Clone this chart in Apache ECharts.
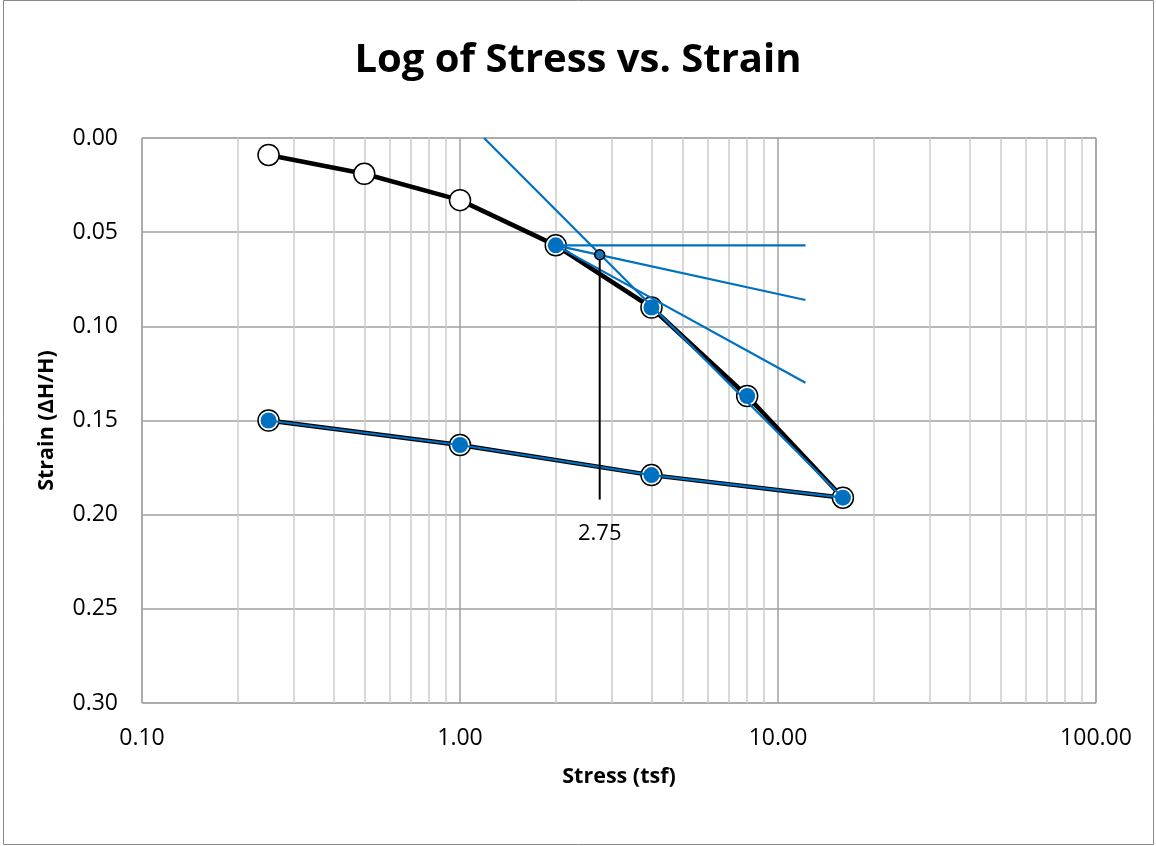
<!DOCTYPE html>
<html><head><meta charset="utf-8">
<script src="https://cdn.jsdelivr.net/npm/echarts@6/dist/echarts.min.js"></script>
<style>html,body{margin:0;padding:0;background:#fff}#c{width:1156px;height:846px}</style>
</head><body><div id="c"></div>
<script>
// Data
const stress = [0.25, 0.5, 1, 2, 4, 8, 16, 4, 1, 0.25];
const strain = [0.009, 0.019, 0.033, 0.057, 0.090, 0.137, 0.191, 0.179, 0.163, 0.150];
const loadBlueStress = [2, 4, 8];
const loadBlueStrain = [0.057, 0.090, 0.137];
const unloadStress = [16, 4, 1, 0.25];
const unloadStrain = [0.191, 0.179, 0.163, 0.150];
const virginStress = [1.19, 16];
const virginStrain = [0.0, 0.191];
const horizStress = [2, 12.2];
const horizStrain = [0.057, 0.057];
const bisectStress = [2, 12.2];
const bisectStrain = [0.057, 0.086];
const tangentStress = [2, 12.2];
const tangentStrain = [0.057, 0.130];
const pcStress = [2.75, 2.75];
const pcStrain = [0.062, 0.192];
const pcLabel = '2.75';
const minorGrid = [0.2,0.3,0.4,0.5,0.6,0.7,0.8,0.9,2,3,4,5,6,7,8,9,20,30,40,50,60,70,80,90];

const zip = (a, b) => a.map((v, i) => [v, b[i]]);
const font = 'Open Sans, Liberation Sans, sans-serif';
const blue = '#0070C0';

const chart = echarts.init(document.getElementById('c'), null, {renderer: 'canvas'});
chart.setOption({
  animation: false,
  backgroundColor: '#fff',
  graphic: [{type: 'rect', shape: {x: 3.5, y: 0.5, width: 1150, height: 844}, style: {fill: 'none', stroke: '#888', lineWidth: 1}, z: -1}],
  title: {text: 'Log of Stress vs. Strain', left: 'center', top: 36,
    textStyle: {fontFamily: font, fontWeight: 'bold', fontSize: 40, color: '#000'}},
  grid: {left: 142, top: 138, right: 60, bottom: 143, show: true, borderColor: '#a0a0a0', borderWidth: 1},
  xAxis: {
    type: 'log', logBase: 10, min: 0.1, max: 100,
    name: 'Stress (tsf)', nameLocation: 'middle', nameGap: 63,
    nameTextStyle: {fontFamily: font, fontWeight: 'bold', fontSize: 21.5, color: '#000'},
    axisLine: {show: false}, axisTick: {show: false},
    axisLabel: {fontFamily: font, fontSize: 23, color: '#000', margin: 24, formatter: v => Number(v).toFixed(2)},
    splitLine: {show: true, lineStyle: {color: '#a0a0a0', width: 1.5}}
  },
  yAxis: {
    type: 'value', inverse: true, min: 0, max: 0.3, interval: 0.05,
    name: 'Strain (ΔH/H)', nameLocation: 'middle', nameGap: 84, nameRotate: 90,
    nameTextStyle: {fontFamily: font, fontWeight: 'bold', fontSize: 21.5, color: '#000'},
    axisLine: {show: false}, axisTick: {show: false},
    axisLabel: {fontFamily: font, fontSize: 23, color: '#000', margin: 24, formatter: v => v.toFixed(2)},
    splitLine: {show: true, lineStyle: {color: '#a0a0a0', width: 1.5}}
  },
  series: [
    {type: 'line', data: [], silent: true, z: 0,
      markLine: {silent: true, z: 0, symbol: 'none', label: {show: false},
        lineStyle: {color: '#cccccc', width: 1.5, type: 'solid'},
        data: minorGrid.map(v => ({xAxis: v}))}},
    {type: 'line', data: zip(stress, strain), lineStyle: {color: '#000', width: 4.5}, z: 3,
      symbol: 'circle', symbolSize: 21, itemStyle: {color: '#fff', borderColor: '#000', borderWidth: 1.5}},
    {type: 'line', data: zip(virginStress, virginStrain), symbol: 'none', lineStyle: {color: blue, width: 2.2}, z: 4},
    {type: 'line', data: zip(horizStress, horizStrain), symbol: 'none', lineStyle: {color: blue, width: 2.2}, z: 4},
    {type: 'line', data: zip(bisectStress, bisectStrain), symbol: 'none', lineStyle: {color: blue, width: 2.2}, z: 4},
    {type: 'line', data: zip(tangentStress, tangentStrain), symbol: 'none', lineStyle: {color: blue, width: 2.2}, z: 4},
    {type: 'line', data: zip(unloadStress, unloadStrain), lineStyle: {color: blue, width: 2.2}, z: 5,
      symbol: 'circle', symbolSize: 16, itemStyle: {color: blue, borderWidth: 0}},
    {type: 'scatter', data: zip(loadBlueStress, loadBlueStrain), z: 5,
      symbol: 'circle', symbolSize: 16, itemStyle: {color: blue, borderWidth: 0, opacity: 1}},
    {type: 'line', data: zip(pcStress, pcStrain), symbol: 'none', lineStyle: {color: '#000', width: 2}, z: 6,
      label: {show: false}},
    {type: 'scatter', data: [[pcStress[0], pcStrain[0]]], symbol: 'circle', symbolSize: 10, z: 7,
      itemStyle: {color: '#1f6fb5', borderColor: '#000', borderWidth: 1.5, opacity: 1}},
    {type: 'scatter', data: [[pcStress[1], pcStrain[1]]], symbolSize: 0, z: 7,
      itemStyle: {opacity: 1},
      label: {show: true, position: 'bottom', distance: 23, formatter: pcLabel,
        fontFamily: font, fontSize: 22, color: '#000', opacity: 1}}
  ]
});
</script></body></html>
